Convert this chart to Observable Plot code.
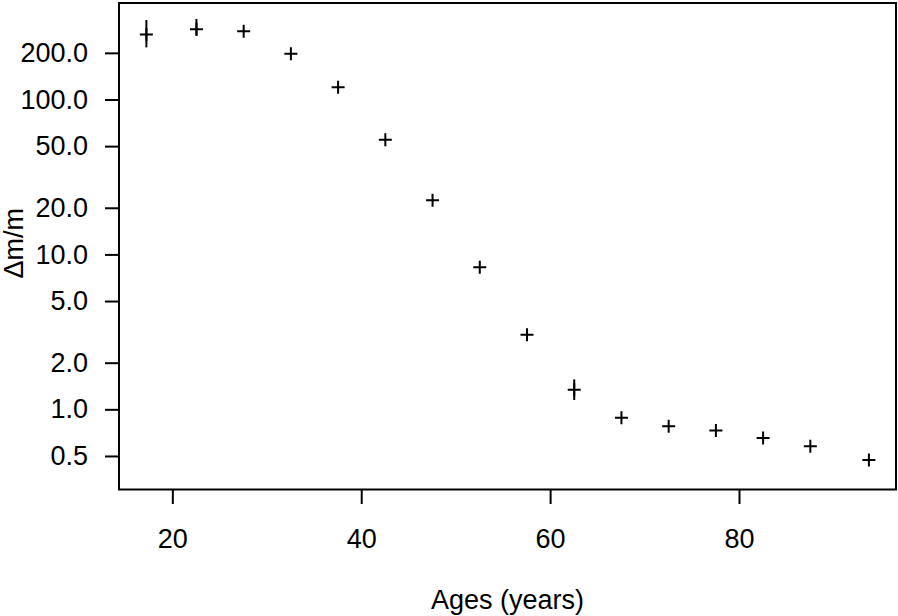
<!DOCTYPE html>
<html>
<head>
<meta charset="utf-8">
<script src="https://cdn.jsdelivr.net/npm/d3@7"></script>
<script src="https://cdn.jsdelivr.net/npm/@observablehq/plot@0.6"></script>
<style>
  html, body { margin: 0; padding: 0; background: #fff; }
  #chart svg { display: block; }
</style>
</head>
<body>
<div id="chart"></div>
<script>
// Data
const ages = [17.2, 22.5, 27.5, 32.5, 37.5, 42.5, 47.5, 52.5, 57.5, 62.5, 67.5, 72.5, 77.5, 82.5, 87.5, 93.7];
const dmm  = [265, 286.5, 278, 198.7, 121, 55.3, 22.5, 8.33, 3.05, 1.346, 0.888, 0.784, 0.735, 0.659, 0.582, 0.475];
const errLo = [217, 258, null, null, null, null, null, null, null, 1.148, null, null, null, null, null, null];
const errHi = [326, 331, null, null, null, null, null, null, null, 1.56, null, null, null, null, null, null];
const xTicks = [20, 40, 60, 80];
const yTicks = [0.5, 1, 2, 5, 10, 20, 50, 100, 200];
const xLabel = "Ages (years)";
const yLabel = "\u0394m/m";

const data = ages.map((a, i) => ({age: a, v: dmm[i], lo: errLo[i], hi: errHi[i]}));
const errData = data.filter(d => d.lo != null && d.hi != null);

const plusSymbol = {
  draw(context, size) {
    const r = Math.sqrt(size / Math.PI);
    context.moveTo(-r, 0); context.lineTo(r, 0);
    context.moveTo(0, -r); context.lineTo(0, r);
  }
};

const chart = Plot.plot({
  width: 898,
  height: 616,
  marginLeft: 118.5,
  marginRight: 2.5,
  marginTop: 2.5,
  marginBottom: 127,
  style: {fontFamily: "'Liberation Sans', Arial, sans-serif", fontSize: "27px", color: "black", background: "white"},
  x: {domain: [14.3, 96.57], label: null},
  y: {type: "log", domain: [0.306, 422.7], label: null},
  marks: [
    Plot.frame({stroke: "black", strokeWidth: 2}),
    Plot.axisX({ticks: xTicks, tickFormat: d => String(d), tickSize: 15, tickPadding: 24, strokeWidth: 2, label: null, fontSize: 27}),
    Plot.axisY({ticks: yTicks, tickSize: 13.5, text: null, strokeWidth: 2, label: null}),
    Plot.text(yTicks, {y: d => d, frameAnchor: "left", dx: -31, textAnchor: "end", text: d3.format(".1f"), fontSize: 27, fill: "black"}),
    Plot.ruleX(errData, {x: "age", y1: "lo", y2: "hi", stroke: "black", strokeWidth: 2}),
    Plot.dot(data, {x: "age", y: "v", symbol: plusSymbol, r: 6.5, stroke: "black", strokeWidth: 2, fill: "none"}),
    Plot.text([xLabel], {frameAnchor: "bottom", text: d => d, dy: 119, fontSize: 27, fill: "black"}),
    Plot.text([yLabel], {frameAnchor: "left", textAnchor: "middle", lineAnchor: "middle", text: d => d, rotate: -90, dx: -105, dy: -3, fontSize: 27, fill: "black"})
  ]
});
document.getElementById("chart").appendChild(chart);
</script>
</body>
</html>
